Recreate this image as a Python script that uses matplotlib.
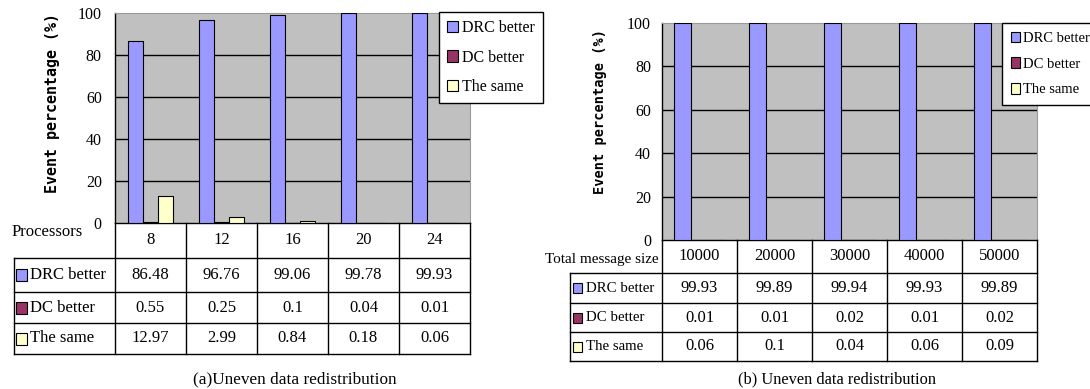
import matplotlib
matplotlib.use('Agg')
import matplotlib.pyplot as plt
from matplotlib.lines import Line2D
from matplotlib.patches import Rectangle
import matplotlib.transforms as mtrans
import numpy as np

plt.rcParams['font.family'] = ['Liberation Serif', 'DejaVu Serif']

W, H = 1090, 389

series_names = ['DRC better', 'DC better', 'The same']
series_colors = ['#9999FF', '#993366', '#FFFFCC']

proc_labels = ['8', '12', '16', '20', '24']
proc_drc = [86.48, 96.76, 99.06, 99.78, 99.93]
proc_dc = [0.55, 0.25, 0.1, 0.04, 0.01]
proc_same = [12.97, 2.99, 0.84, 0.18, 0.06]

msg_labels = ['10000', '20000', '30000', '40000', '50000']
msg_drc = [99.93, 99.89, 99.94, 99.93, 99.89]
msg_dc = [0.01, 0.01, 0.02, 0.01, 0.02]
msg_same = [0.06, 0.1, 0.04, 0.06, 0.09]

yticks = [0, 20, 40, 60, 80, 100]
ylabel = 'Event percentage (%)'
captions = ['(a)Uneven data redistribution', '(b) Uneven data redistribution']
header_titles = ['Processors', 'Total message size']

fig = plt.figure(figsize=(W / 100, H / 100), dpi=100)
fig.patch.set_facecolor('white')


def fx(px):
    return px / W


def fy(py):
    return 1 - py / H


def panel(cats, series, header_title, caption, L):
    x0, x1, ytop, ybot = L['ax']
    ax = fig.add_axes([fx(x0), fy(ybot), (x1 - x0) / W, (ybot - ytop) / H])
    ax.set_facecolor('#C0C0C0')
    n = len(cats)
    x = np.arange(n)
    bw = L['bw']
    handles = []
    for k, (vals, col) in enumerate(zip(series, series_colors)):
        b = ax.bar(x + (k - 1) * bw, vals, width=bw, color=col,
                   edgecolor='black', linewidth=0.8, zorder=3)
        handles.append(b)
    ax.set_xlim(-0.5, n - 0.5)
    ax.set_ylim(0, 100)
    ax.set_yticks(yticks)
    ax.set_xticks([])
    for t in yticks[1:-1]:
        ax.axhline(t, color='black', lw=1.0, zorder=1)
    ax.tick_params(axis='y', length=0, pad=L['pad'], labelsize=L['tick_fs'])
    for s in ['top', 'right']:
        ax.spines[s].set_color('#9a9a9a')
        ax.spines[s].set_linewidth(0.8)
    for s in ['left', 'bottom']:
        ax.spines[s].set_color('black')
        ax.spines[s].set_linewidth(1.0)

    # y label
    fig.text(fx(L['ylab'][0]), fy(L['ylab'][1]), ylabel, rotation=90,
             ha='center', va='center', family='DejaVu Sans Mono',
             fontsize=L['ylab_fs'], fontweight='bold')

    # legend
    leg = ax.legend(handles, series_names, loc='upper left',
                    bbox_to_anchor=(fx(L['leg'][0]), fy(L['leg'][1])),
                    bbox_transform=fig.transFigure, fontsize=L['leg_fs'],
                    fancybox=False, framealpha=1, edgecolor='black',
                    borderpad=L['bp'], handlelength=L['hl'], handleheight=0.72,
                    handletextpad=0.25, labelspacing=L['leg_sp'], borderaxespad=0)
    leg.get_frame().set_linewidth(1.0)

    # table
    trans = mtrans.blended_transform_factory(ax.transData, fig.transFigure)
    rows = L['rows']
    lab_left = L['lab_left']
    lw = 1.0
    for bnd in np.arange(n + 1) - 0.5:
        fig.add_artist(Line2D([bnd, bnd], [fy(ybot), fy(rows[-1])],
                              transform=trans, color='black', lw=lw))
    for r in rows:
        fig.add_artist(Line2D([fx(lab_left), fx(x1)], [fy(r), fy(r)],
                              transform=fig.transFigure, color='black', lw=lw))
    fig.add_artist(Line2D([fx(lab_left), fx(lab_left)], [fy(rows[0]), fy(rows[-1])],
                          transform=fig.transFigure, color='black', lw=lw))
    # header
    hc = (ybot + rows[0]) / 2
    for i, c in enumerate(cats):
        fig.text(i, fy(hc), c, transform=trans, ha='center', va='center',
                 fontsize=L['cell_fs'])
    fig.text(fx(L['htitle'][0]), fy(L['htitle'][1]), header_title,
             ha='left', va='center', fontsize=L['htitle_fs'])
    # body rows
    for k, (vals, col, name) in enumerate(zip(series, series_colors, series_names)):
        rc = (rows[k] + rows[k + 1]) / 2
        sx0, sw, sh = L['sq']
        fig.add_artist(Rectangle((fx(sx0), fy(rc + sh / 2)), sw / W, sh / H,
                                 transform=fig.transFigure, facecolor=col,
                                 edgecolor='black', lw=0.8))
        fig.text(fx(L['lab_x']), fy(rc), name, ha='left', va='center',
                 fontsize=L['lab_fs'])
        for i, v in enumerate(vals):
            fig.text(i, fy(rc), f'{v:g}', transform=trans, ha='center',
                     va='center', fontsize=L['cell_fs'])
    fig.text(fx(L['cap'][0]), fy(L['cap'][1]), caption, ha='center',
             va='center', fontsize=L['cap_fs'])
    return ax


layout_a = dict(ax=(115, 470, 13, 223), bw=0.215, pad=9.5, tick_fs=11.5,
                ylab=(53, 103), ylab_fs=10.8,
                leg=(439, 12), leg_fs=11.5, leg_sp=0.85, hl=0.68, bp=0.5,
                rows=[258, 292, 323, 354], lab_left=14,
                htitle=(12, 232), htitle_fs=12,
                sq=(16, 11, 12), lab_x=30, lab_fs=12, cell_fs=12,
                cap=(294.5, 379), cap_fs=12.4)
layout_b = dict(ax=(662, 1037, 23, 240), bw=0.23, pad=8, tick_fs=11.5,
                ylab=(600, 111), ylab_fs=9.8,
                leg=(1002, 23), leg_fs=10.5, leg_sp=0.85, hl=0.62, bp=0.6,
                rows=[273, 303, 332, 361], lab_left=570,
                htitle=(545, 259), htitle_fs=11,
                sq=(573, 9, 10), lab_x=586, lab_fs=10.7, cell_fs=12,
                cap=(837.5, 379), cap_fs=11.75)

panel(proc_labels, [proc_drc, proc_dc, proc_same], header_titles[0], captions[0], layout_a)
panel(msg_labels, [msg_drc, msg_dc, msg_same], header_titles[1], captions[1], layout_b)

fig.savefig('out.png', dpi=100, facecolor='white')
